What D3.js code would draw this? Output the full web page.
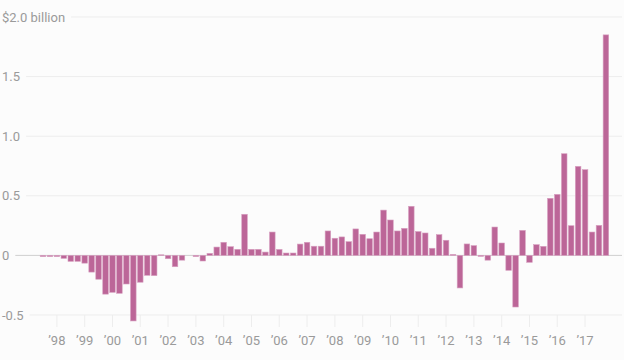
<!DOCTYPE html>
<html>
<head>
<meta charset="utf-8">
<script src="https://cdn.jsdelivr.net/npm/d3@7"></script>
<style>
  html, body { margin: 0; padding: 0; background: #fcfcfc; }
  svg { display: block; }
  text { font-family: Roboto, "Noto Sans", sans-serif; }
</style>
</head>
<body>
<svg id="chart" width="624" height="360"></svg>
<script>
// Quarterly values, 1997 Q3 through 2017 Q4 ($ billion)
const startYear = 1997;
const startQuarter = 3;
const values = [
  -0.01, -0.01, -0.01, -0.025, -0.05, -0.05, -0.065, -0.14,
  -0.2, -0.325, -0.31, -0.318, -0.24, -0.55, -0.225, -0.167,
  -0.17, 0.005, -0.028, -0.095, -0.04, 0, -0.01, -0.047,
  0.017, 0.07, 0.11, 0.073, 0.051, 0.345, 0.051, 0.051,
  0.028, 0.196, 0.05, 0.02, 0.02, 0.095, 0.11, 0.077,
  0.077, 0.205, 0.144, 0.155, 0.115, 0.222, 0.177, 0.14,
  0.196, 0.38, 0.297, 0.205, 0.227, 0.412, 0.2, 0.188,
  0.06, 0.174, 0.127, 0.008, -0.273, 0.096, 0.082, -0.008,
  -0.04, 0.238, 0.104, -0.125, -0.433, 0.21, -0.058, 0.09,
  0.076, 0.479, 0.512, 0.853, 0.249, 0.747, 0.719, 0.196,
  0.252, 1.85
];
const yTicks = [-0.5, 0, 0.5, 1.0, 1.5, 2.0];
const yTickLabels = ["-0.5", "0", "0.5", "1.0", "1.5", "$2.0 billion"];
const xYears = [1998,1999,2000,2001,2002,2003,2004,2005,2006,2007,2008,2009,2010,2011,2012,2013,2014,2015,2016,2017];
const xYearLabels = ["’98","’99","’00","’01","’02","’03","’04","’05","’06","’07","’08","’09","’10","’11","’12","’13","’14","’15","’16","’17"];

const quarters = values.map((v, i) => {
  const q0 = (startQuarter - 1) + i;
  return (startYear + Math.floor(q0 / 4)) + "Q" + (q0 % 4 + 1);
});
const data = quarters.map((q, i) => ({ q, v: values[i] }));

const svg = d3.select("#chart");
const W = 624, H = 360;

const x = d3.scaleBand()
  .domain(quarters)
  .range([39.5, 609.4])
  .paddingInner(0.2)
  .paddingOuter(0.1);

const y = d3.scaleLinear()
  .domain([-0.5, 2.0])
  .range([315, 17]);

// grid + y labels
const gGrid = svg.append("g");
yTicks.forEach((t, i) => {
  const lbl = gGrid.append("text")
    .attr("x", 2)
    .attr("y", y(t))
    .attr("dy", "0.35em")
    .attr("fill", "#9a9a9a")
    .attr("font-size", 13)
    .text(yTickLabels[i]);
  const w = lbl.node().getComputedTextLength();
  gGrid.insert("line", "text")
    .attr("x1", 2 + w + 6)
    .attr("x2", 622)
    .attr("y1", y(t))
    .attr("y2", y(t))
    .attr("stroke", t === 0 ? "#cfcfcf" : "#ededed")
    .attr("stroke-width", 1);
});

// x ticks
const gX = svg.append("g");
xYears.forEach((yr, i) => {
  const cx = x(yr + "Q1") + x.bandwidth() / 2;
  gX.append("line")
    .attr("x1", cx).attr("x2", cx)
    .attr("y1", 315).attr("y2", 327)
    .attr("stroke", "#ededed")
    .attr("stroke-width", 1);
  gX.append("text")
    .attr("x", cx)
    .attr("y", 340)
    .attr("dy", "0.35em")
    .attr("text-anchor", "middle")
    .attr("fill", "#9a9a9a")
    .attr("font-size", 13)
    .text(xYearLabels[i]);
});

// bars
svg.append("g")
  .selectAll("rect")
  .data(data)
  .join("rect")
  .attr("x", d => x(d.q))
  .attr("width", x.bandwidth())
  .attr("y", d => Math.min(y(d.v), y(0)))
  .attr("height", d => Math.abs(y(d.v) - y(0)))
  .attr("fill", "#bc6698")
  .attr("stroke", "#d7a0c0")
  .attr("stroke-width", 0.6);
</script>
</body>
</html>
